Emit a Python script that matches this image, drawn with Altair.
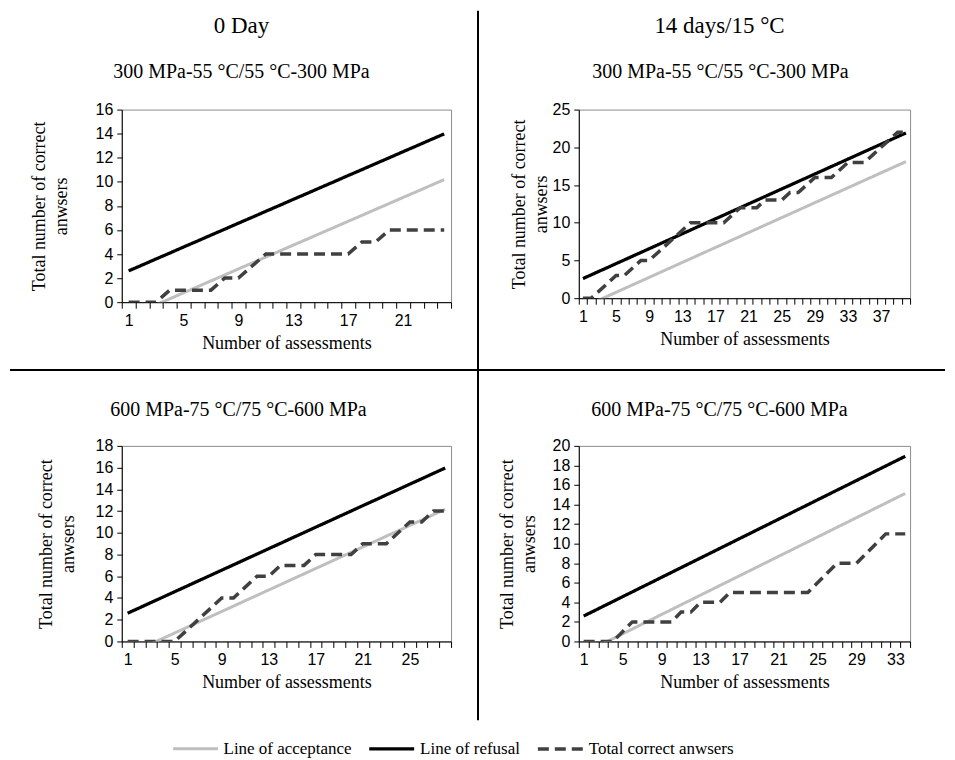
import altair as alt
import pandas as pd

SERIES = ["Line of acceptance", "Line of refusal", "Total correct anwsers"]
COLORS = ["#bfbfbf", "#000000", "#404040"]
DASHES = [[1, 0], [1, 0], [11, 6]]
WIDTHS = [3, 3.5, 3]

# sequential-test decision lines (assessment 1..40)
refusal_line = [2.60, 3.09, 3.59, 4.08, 4.58, 5.07, 5.57, 6.06, 6.56, 7.05,
                7.55, 8.04, 8.54, 9.03, 9.53, 10.02, 10.52, 11.01, 11.51, 12.00,
                12.50, 12.99, 13.49, 13.98, 14.48, 14.97, 15.47, 15.96, 16.46, 16.95,
                17.45, 17.94, 18.44, 18.93, 19.43, 19.92, 20.42, 20.91, 21.41, 21.90]
acceptance_line = [-1.20, -0.71, -0.21, 0.28, 0.78, 1.27, 1.77, 2.26, 2.76, 3.25,
                   3.75, 4.24, 4.74, 5.23, 5.73, 6.22, 6.72, 7.21, 7.71, 8.20,
                   8.70, 9.19, 9.69, 10.18, 10.68, 11.17, 11.67, 12.16, 12.66, 13.15,
                   13.65, 14.14, 14.64, 15.13, 15.63, 16.12, 16.62, 17.11, 17.61, 18.10]

# total correct answers per panel
total_0day_300 = [0, 0, 0, 1, 1, 1, 1, 2, 2, 3, 4, 4, 4, 4, 4, 4, 4, 5, 5, 6, 6, 6, 6, 6]
total_14d_300 = [0, 0, 1, 2, 3, 3, 4, 5, 5, 6, 7, 8, 9, 10, 10, 10, 10, 10, 11, 12,
                 12, 12, 13, 13, 13, 14, 14, 15, 16, 16, 16, 17, 18, 18, 18, 19, 20, 21, 22, 22]
total_0day_600 = [0, 0, 0, 0, 0, 1, 2, 3, 4, 4, 5, 6, 6, 7, 7, 7, 8, 8, 8, 8,
                  9, 9, 9, 10, 11, 11, 12, 12]
total_14d_600 = [0, 0, 0, 0, 1, 2, 2, 2, 2, 2, 3, 3, 4, 4, 4, 5, 5, 5, 5, 5,
                 5, 5, 5, 5, 6, 7, 8, 8, 8, 9, 10, 11, 11, 11]

COL_TITLES = ["0 Day", "14 days/15 °C"]
SUB_300 = "300 MPa-55 °C/55 °C-300 MPa"
SUB_600 = "600 MPa-75 °C/75 °C-600 MPa"
X_TITLE = "Number of assessments"
Y_TITLE = ["Total number of correct", "anwsers"]

SERIF = "Liberation Serif"
SANS = "Liberation Sans"

ONE = pd.DataFrame({"k": [0]})

legend_spec = alt.Legend(
    title=None, orient="none", legendX=50, legendY=616, direction="horizontal",
    symbolType="stroke", symbolSize=2025, symbolStrokeWidth=3,
    labelFont=SERIF, labelFontSize=17, labelColor="black", labelLimit=300,
    columnPadding=10, labelOffset=4,
)


def label(text, x, y, size):
    return alt.Chart(ONE).mark_text(
        text=text, font=SERIF, fontSize=size, color="black",
        align="center", baseline="middle",
    ).encode(x=alt.value(x), y=alt.value(y))


def panel(totals, width, height, ymax, ystep, titles, ytpad, seps=False):
    N = len(totals)
    nums = list(range(1, N + 1))
    df = pd.DataFrame({
        "n": nums * 3,
        "value": acceptance_line[:N] + refusal_line[:N] + totals,
        "series": [SERIES[0]] * N + [SERIES[1]] * N + [SERIES[2]] * N,
    })
    cat_w = width / N
    xaxis = alt.Axis(
        values=[i + 0.5 for i in range(0, N + 1)],
        labelExpr=f"(datum.value - 0.5) % 4 == 0 && datum.value < {N} ? format(datum.value + 0.5, 'd') : ''",
        labelOffset=cat_w / 2, labelFlush=False, labelOverlap=False,
        tickSize=6, labelPadding=4, title=X_TITLE, titlePadding=6,
    )
    yaxis = alt.Axis(values=list(range(0, ymax + 1, ystep)), tickSize=5,
                     labelPadding=4, title=Y_TITLE, titlePadding=ytpad,
                     titleLineHeight=22)
    lines = alt.Chart(df).mark_line(clip=True).encode(
        x=alt.X("n:Q", scale=alt.Scale(domain=[0.5, N + 0.5], nice=False, zero=False), axis=xaxis),
        y=alt.Y("value:Q", scale=alt.Scale(domain=[0, ymax], nice=False), axis=yaxis),
        color=alt.Color("series:N", scale=alt.Scale(domain=SERIES, range=COLORS), legend=legend_spec),
        strokeDash=alt.StrokeDash("series:N", scale=alt.Scale(domain=SERIES, range=DASHES), legend=legend_spec),
        strokeWidth=alt.StrokeWidth("series:N", scale=alt.Scale(domain=SERIES, range=WIDTHS), legend=None),
        order=alt.Order("n:Q"),
    )
    layers = [lines] + [label(t, x, y, s) for (t, x, y, s) in titles]
    if seps:
        vline = alt.Chart(ONE).mark_rule(color="black", strokeWidth=2).encode(
            x=alt.value(357), y=alt.value(-99), y2=alt.value(612))
        hline = alt.Chart(ONE).mark_rule(color="black", strokeWidth=2).encode(
            x=alt.value(-112), x2=alt.value(825), y=alt.value(261))
        layers += [vline, hline]
    return alt.layer(*layers).properties(width=width, height=height)


p1 = panel(total_0day_300, 330, 193, 16, 2,
           [(COL_TITLES[0], 120, -84, 23), (SUB_300, 120, -38, 20)], 25, seps=True)
p2 = panel(total_14d_300, 332, 189, 25, 5,
           [(COL_TITLES[1], 141, -84, 23), (SUB_300, 142, -38, 20)], 2)
p3 = panel(total_0day_600, 330, 196, 18, 2, [(SUB_600, 117, -36, 20)], 18)
p4 = panel(total_14d_600, 332, 196, 20, 2, [(SUB_600, 141, -36, 20)], 14)

chart = alt.concat(p1, p2, p3, p4, columns=2, bounds="flush",
                   spacing={"row": 144, "column": 128}).properties(
    padding=0
).configure_view(
    stroke="#8c8c8c", strokeWidth=1
).configure_axis(
    domainColor="black", tickColor="black", labelColor="black", titleColor="black",
    labelFont=SANS, labelFontSize=16, titleFont=SERIF, titleFontSize=18,
    titleFontWeight="normal", grid=False,
)

chart.save("out.html", embed_options={"renderer": "svg", "actions": False})
